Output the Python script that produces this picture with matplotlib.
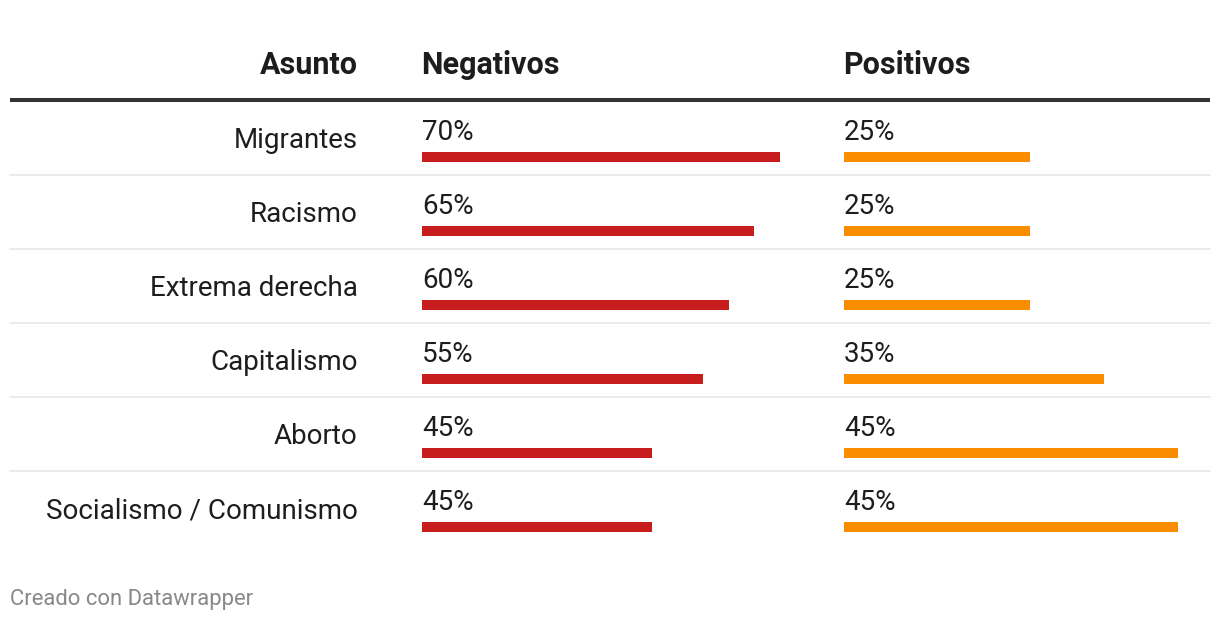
import matplotlib
matplotlib.use("Agg")
import matplotlib.pyplot as plt

# Data
asuntos = ["Migrantes", "Racismo", "Extrema derecha", "Capitalismo",
           "Aborto", "Socialismo / Comunismo"]
negativos = [70, 65, 60, 55, 45, 45]
positivos = [25, 25, 25, 35, 45, 45]
headers = ["Asunto", "Negativos", "Positivos"]
footer = "Creado con Datawrapper"

W, H = 1220, 620
RED = "#c71e1d"
ORANGE = "#fa8c00"
TXT = "#1d1d1d"

plt.rcParams['font.family'] = ['Roboto', 'DejaVu Sans']

fig = plt.figure(figsize=(W / 100, H / 100), dpi=100)
ax = fig.add_axes([0, 0, 1, 1])
ax.set_xlim(0, W)
ax.set_ylim(H, 0)
ax.axis('off')

# layout (pixels)
label_x = 357.5
neg_x0, neg_x1 = 422, 780
pos_x0, pos_x1 = 844, 1178
head_y = 74
row0 = 148
row_h = 74

# header
ax.text(label_x, head_y, headers[0], ha='right', va='baseline',
        fontsize=22, fontweight='bold', color=TXT)
ax.text(neg_x0 - 1, head_y, headers[1], ha='left', va='baseline',
        fontsize=22, fontweight='bold', color=TXT)
ax.text(pos_x0 - 1, head_y, headers[2], ha='left', va='baseline',
        fontsize=22, fontweight='bold', color=TXT)
ax.plot([10, 1210], [100, 100], color='#333333', lw=2.9, solid_capstyle='butt')

# bar axes, each column scaled to its own max
ax_n = fig.add_axes([neg_x0 / W, 0, (neg_x1 - neg_x0) / W, 1])
ax_n.set_xlim(0, max(negativos))
ax_p = fig.add_axes([pos_x0 / W, 0, (pos_x1 - pos_x0) / W, 1])
ax_p.set_xlim(0, max(positivos))
for a in (ax_n, ax_p):
    a.set_ylim(H, 0)
    a.axis('off')
    a.patch.set_alpha(0)

for i, name in enumerate(asuntos):
    base = row0 + i * row_h
    ax.text(label_x, base, name, ha='right', va='baseline',
            fontsize=20, color=TXT)
    if i < len(asuntos) - 1:
        ax.plot([10, 1210], [base + 27, base + 27], color='#e6e6e6', lw=1.1)

ys = [row0 + i * row_h + 9 for i in range(len(asuntos))]
ax_n.barh(ys, negativos, height=10, color=RED, left=0)
ax_p.barh(ys, positivos, height=10, color=ORANGE, left=0)
for y, v in zip(ys, negativos):
    ax_n.text(0, y - 17, f"{v}%", ha='left', va='baseline', fontsize=20, color=TXT)
for y, v in zip(ys, positivos):
    ax_p.text(0, y - 17, f"{v}%", ha='left', va='baseline', fontsize=20, color=TXT)

ax.text(10, 605, footer, ha='left', va='baseline', fontsize=15.8, color='#888888')

fig.savefig("out.png", dpi=100)
